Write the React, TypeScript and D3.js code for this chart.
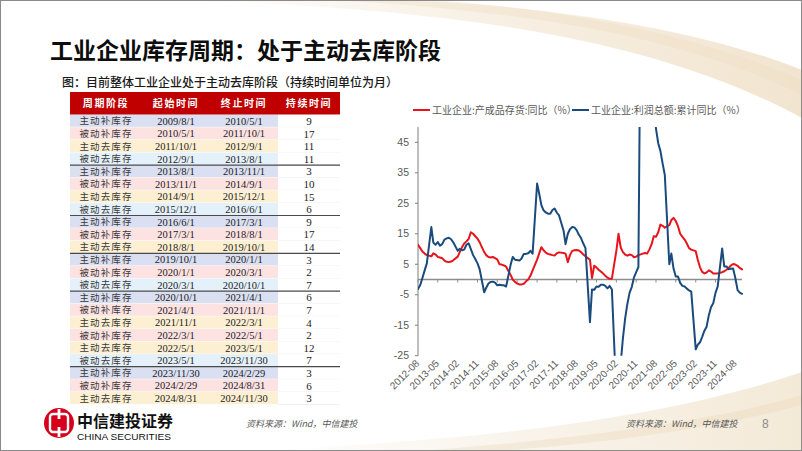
import React from 'react';
import * as d3 from 'd3';

const W = 802;
const H = 451;

// ---------- table data ----------
const tableHeaders = ['周期阶段', '起始时间', '终止时间', '持续时间'];
const stages = [
  '主动补库存', '被动补库存', '主动去库存', '被动去库存',
  '主动补库存', '被动补库存', '主动去库存', '被动去库存',
  '主动补库存', '被动补库存', '主动去库存',
  '主动补库存', '被动补库存', '被动去库存',
  '主动补库存', '被动补库存', '主动去库存', '被动补库存', '主动去库存', '被动去库存',
  '主动补库存', '被动补库存', '主动去库存',
];
const startDates = [
  '2009/8/1', '2010/5/1', '2011/10/1', '2012/9/1',
  '2013/8/1', '2013/11/1', '2014/9/1', '2015/12/1',
  '2016/6/1', '2017/3/1', '2018/8/1',
  '2019/10/1', '2020/1/1', '2020/3/1',
  '2020/10/1', '2021/4/1', '2021/11/1', '2022/3/1', '2022/5/1', '2023/5/1',
  '2023/11/30', '2024/2/29', '2024/8/31',
];
const endDates = [
  '2010/5/1', '2011/10/1', '2012/9/1', '2013/8/1',
  '2013/11/1', '2014/9/1', '2015/12/1', '2016/6/1',
  '2017/3/1', '2018/8/1', '2019/10/1',
  '2020/1/1', '2020/3/1', '2020/10/1',
  '2021/4/1', '2021/11/1', '2022/3/1', '2022/5/1', '2023/5/1', '2023/11/30',
  '2024/2/29', '2024/8/31', '2024/11/30',
];
const durations = [9, 17, 11, 11, 3, 10, 15, 6, 9, 17, 14, 3, 2, 7, 6, 7, 4, 2, 12, 7, 3, 6, 3];
const cycleStartRows = [4, 8, 11, 14, 20];

// ---------- chart data (monthly from 2012-08, January not published) ----------
const seriesStart = '2012-08';
const inventoryYoY: (number | null)[] = [
  11.4, 10.3, 9.2, 8.5, 8.0,
  null, 7.6, 8.6, 8.2, 7.4, 7.2, 7.0, 6.2, 5.8, 5.7, 5.9, 6.3,
  null, 7.5, 9.0, 10.6, 11.8, 12.5, 13.3, 15.5, 15.0, 14.2, 13.4, 12.2,
  null, 9.0, 8.0, 7.4, 7.2, 7.4, 7.0, 6.6, 5.0, 4.9, 4.6, 4.2,
  null, 1.5, 0.0, -0.8, -1.3, -1.6, -1.6, -1.4, -0.6, 0.0, 1.2, 3.0,
  null, 6.5, 8.5, 10.6, 9.6, 8.8, 8.4, 8.2, 8.0, 7.9, 8.6, 8.9,
  null, 8.7, 8.5, 5.7, 8.0, 9.4, 9.6, 9.7, 9.5, 9.0, 8.2, 7.6,
  null, 6.5, 0.5, 4.5, 4.0, 3.2, 2.6, 2.0, 1.2, 0.6, 0.2, 0.3,
  null, 9.5, 15.0, 10.5, 9.0, 8.2, 7.8, 8.2, 8.0, 7.3, 7.5, 8.0,
  null, 8.5, 8.7, 8.5, 9.8, 11.5, 14.2, 14.0, 15.5, 18.0, 17.6, 17.0,
  null, 17.8, 19.5, 20.2, 19.2, 17.5, 15.0, 14.0, 13.1, 11.8, 10.3, 9.8,
  null, 9.3, 6.5, 4.0, 2.5, 2.0, 2.3, 3.0, 2.6, 2.0, 2.0, 2.0,
  null, 2.4, 2.7, 3.2, 3.8, 4.6, 5.1, 4.9, 4.5, 3.8, 3.3,
];
const profitYoY: (number | null)[] = [
  -3.1, -1.8, 0.5, 3.0, 5.3,
  null, 17.2, 12.1, 11.4, 12.3, 11.1, 11.6, 13.1, 13.5, 13.7, 13.2, 12.2,
  null, 9.4, 10.1, 9.6, 9.8, 11.4, 11.9, 10.0, 8.0, 6.7, 5.3, 3.3,
  null, -4.2, -2.7, -1.3, -0.8, -0.7, -1.0, -1.9, -1.7, -1.9, -1.9, -2.3,
  null, 4.8, 7.4, 6.5, 6.4, 6.2, 6.9, 8.4, 8.4, 8.6, 9.4, 8.5,
  null, 31.5, 28.3, 24.4, 22.7, 22.0, 21.6, 21.6, 22.8, 23.3, 21.9, 21.0,
  null, 16.1, 11.6, 15.0, 16.5, 17.2, 17.1, 16.2, 14.7, 13.6, 11.8, 10.3,
  null, -14.0, -3.3, -3.4, -2.3, -2.4, -1.7, -1.7, -2.1, -2.9, -2.1, -3.3,
  null, -38.3, -36.7, -27.4, -19.3, -12.8, -8.1, -4.4, -2.4, 0.7, 2.4, 4.1,
  null, 178.9, 137.3, 106.0, 83.4, 66.9, 57.3, 49.5, 44.7, 42.2, 38.0, 34.3,
  null, 5.0, 8.5, 3.5, 1.0, 1.0, -1.1, -2.1, -2.3, -3.0, -3.6, -4.0,
  null, -22.9, -21.4, -20.6, -18.8, -16.8, -15.5, -11.7, -9.0, -7.8, -4.4, -2.3,
  null, 10.2, 4.3, 4.3, 3.4, 3.5, 3.6, 0.5, -3.5, -4.3, -4.7,
];
const xTickLabels = [
  '2012-08', '2013-05', '2014-02', '2014-11', '2015-08', '2016-05', '2017-02', '2017-11', '2018-08',
  '2019-05', '2020-02', '2020-11', '2021-08', '2022-05', '2023-02', '2023-11', '2024-08',
];
const yTicks = [-25, -15, -5, 5, 15, 25, 35, 45];
const yDomain = [-25, 50];
const legendNames = ['工业企业:产成品存货:同比（%）', '工业企业:利润总额:累计同比（%）'];
const seriesColors = ['#e8141b', '#1a4b7c'];

const stageColors: Record<string, string> = {
  '主动补库存': '#dadff1',
  '被动补库存': '#fde2e2',
  '主动去库存': '#fdf0d2',
  '被动去库存': '#e4f1fb',
};

const CJK = '"Noto Sans CJK SC", "Noto Sans", sans-serif';
const SERIF = '"Liberation Serif", "DejaVu Serif", serif';
const SANS = '"Liberation Sans", Arial, sans-serif';

function Table() {
  const colEdges = [70, 142, 210, 278, 340];
  const headerTop = 92;
  const headerH = 22.7;
  const rowTop = headerTop + headerH;
  const rowH = 12.6;
  const rows = stages.map((s, i) => ({ s, a: startDates[i], b: endDates[i], d: durations[i] }));
  const cx = (c: number) => (colEdges[c] + colEdges[c + 1]) / 2;
  return (
    <g>
      <rect x={colEdges[0]} y={headerTop} width={colEdges[4] - colEdges[0]} height={headerH} fill="#c00000" />
      {tableHeaders.map((h, c) => (
        <text key={h} x={cx(c)} y={headerTop + headerH / 2 + 3.6} textAnchor="middle" fill="#fff"
          fontFamily={CJK} fontWeight={700} fontSize={10} letterSpacing={1.6}>{h}</text>
      ))}
      {rows.map((r, i) => {
        const y0 = rowTop + i * rowH;
        return (
          <g key={i}>
            <rect x={colEdges[0]} y={y0} width={colEdges[3] - colEdges[0]} height={rowH} fill={stageColors[r.s]} />
            <rect x={colEdges[3]} y={y0} width={colEdges[4] - colEdges[3]} height={rowH} fill="#fff" />
            <line x1={colEdges[0]} x2={colEdges[3]} y1={y0 + rowH} y2={y0 + rowH} stroke="#fff" strokeWidth={0.8} />
            <line x1={colEdges[3]} x2={colEdges[4]} y1={y0 + rowH} y2={y0 + rowH} stroke="#ececec" strokeWidth={0.8} />
            <text x={cx(0)} y={y0 + rowH / 2 + 3.4} textAnchor="middle" fill="#3a3a3a" fontFamily={CJK}
              fontSize={9.5} letterSpacing={1.1}>{r.s}</text>
            <text x={cx(1)} y={y0 + rowH / 2 + 3.7} textAnchor="middle" fill="#222" fontFamily={SERIF} fontSize={10.5}>{r.a}</text>
            <text x={cx(2)} y={y0 + rowH / 2 + 3.7} textAnchor="middle" fill="#222" fontFamily={SERIF} fontSize={10.5}>{r.b}</text>
            <text x={cx(3)} y={y0 + rowH / 2 + 3.9} textAnchor="middle" fill="#222" fontFamily={SERIF} fontSize={11}>{r.d}</text>
          </g>
        );
      })}
      {cycleStartRows.map((ri) => (
        <line key={ri} x1={colEdges[0]} x2={colEdges[4]} y1={rowTop + ri * rowH} y2={rowTop + ri * rowH}
          stroke="#4a4a4a" strokeWidth={1.2} />
      ))}
    </g>
  );
}

function Chart() {
  const parse = d3.timeParse('%Y-%m');
  const start = parse(seriesStart) as Date;
  const dateAt = (i: number) => d3.timeMonth.offset(start, i);
  const n = inventoryYoY.length;
  const x = d3.scaleTime().domain([start, dateAt(n - 1)]).range([418, 742]);
  const y = d3.scaleLinear().domain(yDomain).range([355.7, 127.1]);
  const line = d3.line<[Date, number]>().x((d) => x(d[0])).y((d) => y(d[1]));
  const toPts = (arr: (number | null)[]) =>
    arr.map((v, i) => [dateAt(i), v] as [Date, number | null]).filter((d) => d[1] != null) as [Date, number][];
  const series = [inventoryYoY, profitYoY];
  const x0 = x.range()[0];
  const x1 = x.range()[1];
  const tickDates = xTickLabels.map((l) => parse(l) as Date);
  return (
    <g>
      <defs>
        <clipPath id="plotClip">
          <rect x={x0} y={y(yDomain[1])} width={x1 - x0 + 4} height={y(yDomain[0]) - y(yDomain[1])} />
        </clipPath>
      </defs>
      {/* legend */}
      {legendNames.map((name, i) => {
        const lx = i === 0 ? 413 : 572;
        return (
          <g key={name}>
            <line x1={lx} x2={lx + 17} y1={110} y2={110} stroke={seriesColors[i]} strokeWidth={2} />
            <text x={lx + 19} y={113.5} fontFamily={CJK} fontSize={10} fill="#595959">{name}</text>
          </g>
        );
      })}
      {/* y axis */}
      <line x1={x0} x2={x0} y1={y(yDomain[1])} y2={y(yDomain[0])} stroke="#7f7f7f" strokeWidth={1} />
      {yTicks.map((t) => (
        <g key={t}>
          <line x1={x0 - 3} x2={x0} y1={y(t)} y2={y(t)} stroke="#7f7f7f" strokeWidth={1} />
          <text x={x0 - 9} y={y(t) + 3.6} textAnchor="end" fontFamily={SANS} fontSize={10.5} fill="#595959">{t}</text>
        </g>
      ))}
      {/* zero line with ticks */}
      <line x1={x0} x2={x1} y1={y(0)} y2={y(0)} stroke="#8c8c8c" strokeWidth={1.5} />
      {tickDates.map((d, i) => (
        <line key={i} x1={x(d)} x2={x(d)} y1={y(0)} y2={y(0) + 3} stroke="#8c8c8c" strokeWidth={1} />
      ))}
      {/* x labels */}
      {tickDates.map((d, i) => (
        <text key={xTickLabels[i]} transform={`translate(${x(d) + 2},${364}) rotate(-45)`} textAnchor="end"
          fontFamily={SANS} fontSize={10} fill="#595959">{xTickLabels[i]}</text>
      ))}
      {/* lines */}
      <g clipPath="url(#plotClip)">
        {series.map((s, i) => (
          <path key={i} d={line(toPts(s)) || ''} fill="none" stroke={seriesColors[i]} strokeWidth={2}
            strokeLinejoin="round" strokeLinecap="round" />
        ))}
      </g>
    </g>
  );
}

function Logo() {
  return (
    <g>
      <circle cx={59} cy={423} r={15} fill="#d6001c" />
      <rect x={50} y={414} width={18} height={18} rx={3} fill="none" stroke="#fff" strokeWidth={2.4} />
      <rect x={57.6} y={409} width={2.8} height={28} fill="#fff" />
      <rect x={55} y={419} width={8} height={8} fill="#d6001c" />
      <text x={77} y={427} fontFamily={CJK} fontWeight={700} fontSize={16} fill="#111">中信建投证券</text>
      <text x={77} y={440} fontFamily={'"Liberation Sans Narrow", "Liberation Sans", Arial, sans-serif'} fontSize={9.5}
        fill="#111" textLength={94} lengthAdjust="spacingAndGlyphs">CHINA SECURITIES</text>
    </g>
  );
}

export default function App() {
  return (
    <svg width={W} height={H} viewBox={`0 0 ${W} ${H}`}
      style={{ position: 'absolute', left: 0, top: 0, display: 'block', background: '#fff' }}>
      <defs>
        <linearGradient id="swTop" x1="0" y1="0" x2="1" y2="0">
          <stop offset="0" stopColor="#f1e3cc" stopOpacity={0} />
          <stop offset="0.5" stopColor="#f1e3cc" stopOpacity={0.55} />
          <stop offset="1" stopColor="#ecd9bb" stopOpacity={0.7} />
        </linearGradient>
        <linearGradient id="swBot" x1="0" y1="0" x2="1" y2="0">
          <stop offset="0" stopColor="#f3e8d6" stopOpacity={0} />
          <stop offset="0.6" stopColor="#f3e8d6" stopOpacity={0.6} />
          <stop offset="1" stopColor="#efe0c6" stopOpacity={0.7} />
        </linearGradient>
        <linearGradient id="rule" x1="0" y1="0" x2="1" y2="0">
          <stop offset="0" stopColor="#9a9a9a" />
          <stop offset="0.85" stopColor="#b8b8b8" />
          <stop offset="1" stopColor="#e0e0e0" />
        </linearGradient>
      </defs>
      <rect x={0} y={0} width={W} height={H} fill="#fff" />
      {/* decorative swooshes */}
      <path d="M 180 0 C 420 8, 640 30, 802 118 L 802 70 C 690 25, 520 2, 380 0 Z" fill="url(#swTop)" />
      <path d="M 330 0 C 560 12, 700 45, 802 95 L 802 80 C 700 35, 560 8, 430 0 Z" fill="#efdcc0" opacity={0.35} />
      <path d="M 250 451 C 480 440, 660 420, 802 372 L 802 451 Z" fill="url(#swBot)" />
      <path d="M 420 451 C 560 440, 700 425, 802 395 L 802 405 C 700 432, 580 445, 500 451 Z" fill="#ead7b8" opacity={0.35} />

      {/* title */}
      <text x={50} y={59} fontFamily={CJK} fontWeight={700} fontSize={23} fill="#0d0d0d">工业企业库存周期：处于主动去库阶段</text>
      <line x1={28} x2={760} y1={66} y2={66} stroke="url(#rule)" strokeWidth={1.6} />
      <text x={62} y={86.5} fontFamily={CJK} fontWeight={500} fontSize={12} fill="#1a1a1a">图：目前整体工业企业处于主动去库阶段（持续时间单位为月）</text>

      <Table />
      <Chart />
      <Logo />

      <text x={246} y={427} fontFamily={CJK} fontStyle="italic" fontSize={9} fill="#595959">资料来源：Wind，中信建投</text>
      <text x={626} y={427} fontFamily={CJK} fontStyle="italic" fontSize={9} fill="#595959">资料来源：Wind，中信建投</text>
      <text x={762} y={428} fontFamily={SANS} fontSize={12} fill="#8c8c8c">8</text>

      <rect x={0.5} y={0.5} width={W - 1} height={H - 1} fill="none" stroke="#8a8a8a" strokeWidth={1} />
    </svg>
  );
}
